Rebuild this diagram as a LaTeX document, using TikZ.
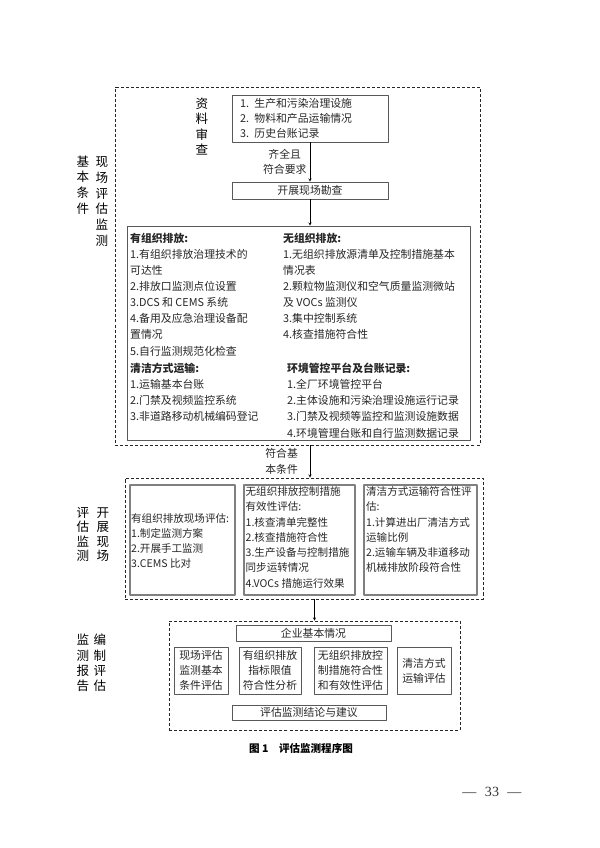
\documentclass[tikz,border=0pt]{standalone}
\usepackage{fontspec}
\setmainfont{Noto Sans CJK SC}
\newfontfamily\numfont{Liberation Serif}
\begin{document}
\begin{tikzpicture}[x=0.35mm, y=-0.35mm, line join=round, >=stealth, text=black!85, font=\fontsize{10.8}{16}\selectfont]
\tikzset{
  frame/.style={draw=black!85, line width=0.9pt, dash pattern=on 3pt off 2pt, inner sep=0pt},
  box/.style={draw=black!65, line width=0.8pt, inner sep=0pt, align=center},
  gbox/.style={draw=black!50, line width=1.2pt, inner sep=0pt},
  txt/.style={anchor=north west, inner sep=0pt, align=left},
  vlab/.style={align=center, inner sep=0pt, text=black, font=\fontsize{12.5}{15.5}\selectfont},
  wh/.style 2 args={minimum width=#1*0.35mm, minimum height=#2*0.35mm}
}
\useasboundingbox (0,0) rectangle (600,848);
% section 1: site check
\node[frame, wh={365}{358}] (siteFrame) at (297.5,266) {};
\node[vlab] (baseLab) at (83,185) {基\\本\\条\\件};
\node[vlab, font=\fontsize{12.5}{15.8}\selectfont] (siteLab) at (102,201.5) {现\\场\\评\\估\\监\\测};
\node[vlab] (docLab) at (202,126.5) {资\\料\\审\\查};
\node[box, wh={156}{47}, text width=140*0.35mm, align=left, font=\fontsize{10.8}{15}\selectfont] (docs) at (310,118.5) {1. 生产和污染治理设施\\2. 物料和产品运输情况\\3. 历史台账记录};
\node[box, wh={156}{17}] (survey) at (310,190.5) {开展现场勘查};
\node[box, wh={343}{214}] (items) at (298.5,333) {};
\node[txt] (orgEm) at (130,233) {\textbf{有组织排放:}\\1.有组织排放治理技术的\\可达性\\2.排放口监测点位设置\\3.DCS 和 CEMS 系统\\4.备用及应急治理设备配\\置情况\\5.自行监测规范化检查};
\node[txt] (cleanTr) at (130,363) {\textbf{清洁方式运输:}\\1.运输基本台账\\2.门禁及视频监控系统\\3.非道路移动机械编码登记};
\node[txt] (fugEm) at (283,233) {\textbf{无组织排放:}\\1.无组织排放源清单及控制措施基本\\情况表\\2.颗粒物监测仪和空气质量监测微站\\及 VOCs 监测仪\\3.集中控制系统\\4.核查措施符合性};
\node[txt] (envPlat) at (287,363) {\textbf{环境管控平台及台账记录:}\\1.全厂环境管控平台\\2.主体设施和污染治理设施运行记录\\3.门禁及视频等监控和监测设施数据\\4.环境管理台账和自行监测数据记录};
\draw[->] (docs) -- (survey) node[midway, left, align=center, font=\fontsize{10.8}{15}\selectfont]{齐全且\\符合要求};
\draw[->] (survey) -- (survey |- items.north);
% section 2: site evaluation
\node[frame, wh={358}{121}] (evalFrame) at (304,538.5) {};
\node[vlab, font=\fontsize{12.5}{14.5}\selectfont] (evalLab) at (83,534.5) {评\\估\\监\\测};
\node[vlab, font=\fontsize{12.5}{14.5}\selectfont] (fieldLab) at (103,534.5) {开\\展\\现\\场};
\node[gbox, wh={105}{110}] (bA) at (182.5,540) {};
\node[gbox, wh={111}{110}] (bB) at (299.5,540) {};
\node[gbox, wh={113}{110}] (bC) at (420.5,540) {};
\begin{scope}[font=\fontsize{10.5}{15.2}\selectfont]
\node[txt] (tA) at (131,513) {有组织排放现场评估:\\1.制定监测方案\\2.开展手工监测\\3.CEMS 比对};
\node[txt] (tB) at (245.5,486.5) {无组织排放控制措施\\有效性评估:\\1.核查清单完整性\\2.核查措施符合性\\3.生产设备与控制措施\\同步运转情况\\4.VOCs 措施运行效果};
\node[txt] (tC) at (366,486.5) {清洁方式运输符合性评\\估:\\1.计算进出厂清洁方式\\运输比例\\2.运输车辆及非道移动\\机械排放阶段符合性};
\end{scope}
\draw[->] (survey |- siteFrame.south) -- (survey |- evalFrame.north) node[midway, left, xshift=-3mm, align=center, font=\fontsize{10.8}{16}\selectfont]{符合基\\本条件};
% section 3: report
\node[frame, wh={291}{109}] (repFrame) at (314.5,675.5) {};
\node[vlab, font=\fontsize{12.5}{15.3}\selectfont] (repLab) at (83,663) {监\\测\\报\\告};
\node[vlab, font=\fontsize{12.5}{15.3}\selectfont] (compLab) at (100,663) {编\\制\\评\\估};
\begin{scope}[font=\fontsize{10.8}{15}\selectfont]
\node[box, wh={155}{16}] (info) at (313.5,633) {企业基本情况};
\node[box, wh={54}{47}] (c1) at (201,670.5) {现场评估\\监测基本\\条件评估};
\node[box, wh={62}{47}] (c2) at (270,670.5) {有组织排放\\指标限值\\符合性分析};
\node[box, wh={73}{47}] (c3) at (350.5,670.5) {无组织排放控\\制措施符合性\\和有效性评估};
\node[box, wh={54}{47}] (c4) at (424,670.5) {清洁方式\\运输评估};
\node[box, wh={154}{15}] (concl) at (309,712.5) {评估监测结论与建议};
\end{scope}
\draw[->] (repFrame.north |- evalFrame.south) -- (repFrame.north);
\node[font=\fontsize{10.5}{12}\selectfont\bfseries, text=black] (cap) at (301,748) {图 1\quad 评估监测程序图};
\node[text=black!80] (page) at (492,792) {\numfont\fontsize{14}{14}\selectfont —\hspace{0.6em}33\hspace{0.6em}—};
\end{tikzpicture}
\end{document}
